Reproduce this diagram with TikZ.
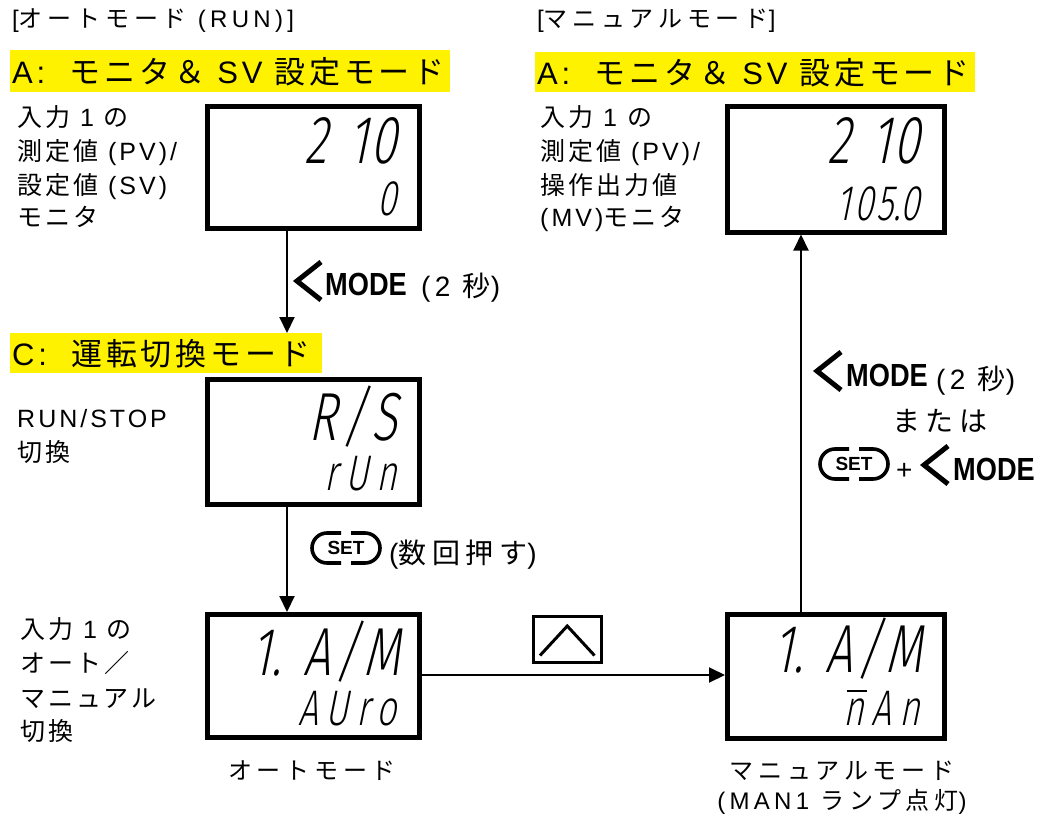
\documentclass[tikz,border=0pt]{standalone}
\usepackage{fontspec}
\usetikzlibrary{arrows.meta}
\setmainfont{Liberation Sans}
\newfontfamily\jp[LetterSpace=12]{Noto Sans CJK JP}
\newfontfamily\jpw[LetterSpace=20]{Noto Sans CJK JP}
\newfontfamily\jpk[LetterSpace=20]{Noto Sans CJK JP}
\newfontfamily\lat[LetterSpace=12]{Liberation Sans}
\newfontfamily\latw[LetterSpace=18]{Liberation Sans}
\newfontfamily\latk[LetterSpace=16]{Liberation Sans}
\newfontfamily\segf[FakeSlant=0.2,FakeStretch=0.7,UprightFont=* Light]{Fira Sans}
\newfontfamily\segs[FakeSlant=0.2,FakeStretch=0.7,LetterSpace=16,UprightFont=* Light]{Fira Sans}
\newfontfamily\keyf[FakeStretch=0.85]{Liberation Sans}
\begin{document}
\begin{tikzpicture}[x=1pt,y=-1pt,
  disp/.style={draw, line width=4.5pt, anchor=north west, inner sep=0},
  lab/.style={anchor=base west, inner sep=0, font=\lat\fontsize{25}{30}\selectfont},
  title/.style={anchor=base west, inner sep=0, font=\latw\fontsize{24}{26}\selectfont},
  head/.style={anchor=base west, inner sep=0, font=\lat\fontsize{31}{36}\selectfont},
  hlbox/.style={fill=yellow, draw=none, anchor=north west, inner sep=0},
  segbig/.style={anchor=base east, inner sep=0, font=\segf\fontsize{68}{68}\selectfont},
  segsmall/.style={anchor=base east, inner sep=0, font=\segs\fontsize{50}{50}\selectfont},
  segsmallc/.style={anchor=base east, inner sep=0, font=\segf\fontsize{50}{50}\selectfont},
  keytxt/.style={anchor=base west, inner sep=0, font=\keyf\bfseries\fontsize{32}{36}\selectfont},
  plain/.style={anchor=base west, inner sep=0, font=\latk\fontsize{28}{30}\selectfont},
  under/.style={anchor=base, inner sep=0, font=\latw\fontsize{24}{28}\selectfont},
  arr/.style={line width=2pt, -{Triangle[length=16pt,width=15pt]}},
  chev/.pic={\draw[line width=5pt, line cap=butt, line join=miter] (12,-19) -- (-12,0) -- (12,19);},
  setkey/.pic={
    \draw[line width=3.6pt] (-5,-15) -- (-19,-15) arc[start angle=-90,end angle=-270,radius=15] -- (-5,15);
    \draw[line width=3.6pt] (5,-15) -- (19,-15) arc[start angle=-90,end angle=90,radius=15] -- (5,15);
    \node[inner sep=0, font=\bfseries\fontsize{19}{19}\selectfont] at (0,0) {SET};}
]
\useasboundingbox (0,0) rectangle (1050,817);

% ---------- titles ----------
\node[title] (t1) at (12,27) {[{\jpw オートモード} (RUN)]};
\node[title] (t2) at (537,27) {[{\jpw マニュアルモード}]};

\node[hlbox, minimum width=440pt, minimum height=42pt] (hA1) at (10,50) {};
\node[head] (hA1t) at (12,83) {A:\ \ {\jp モニタ＆} SV {\jp 設定モード}};
\node[hlbox, minimum width=440pt, minimum height=40pt] (hA2) at (535,52) {};
\node[head] (hA2t) at (537,84) {A:\ \ {\jp モニタ＆} SV {\jp 設定モード}};
\node[hlbox, minimum width=312pt, minimum height=40pt] (hC) at (10,333) {};
\node[head] (hCt) at (12,365) {C:\ \ {\jp 運転切換モード}};

% ---------- display boxes ----------
\node[disp, minimum width=212pt, minimum height=122pt] (b1) at (205,104) {};
\node[disp, minimum width=212pt, minimum height=125pt] (b2) at (205,377) {};
\node[disp, minimum width=212pt, minimum height=123pt] (b3) at (205,612) {};
\node[disp, minimum width=217pt, minimum height=124pt] (b4) at (725,612) {};
\node[disp, minimum width=217pt, minimum height=126pt] (b5) at (725,104) {};

% display texts
\node[segbig] (d1a) at (397,163) {2\hspace{22pt}1\hspace{2pt}0};
\node[segsmall] (d1b) at (397,215) {0};
\node[segbig] (d2a) at (397,440) {R\hspace{5pt}/\hspace{5pt}S};
\node[segsmall] (d2b) at (397,490) {rUn};
\node[segbig] (d3a) at (400,675) {1.\hspace{22pt}A\hspace{4pt}/\hspace{4pt}M};
\node[segsmall] (d3b) at (397,725) {AUro};
\node[segbig] (d4a) at (922,672) {1.\hspace{22pt}A\hspace{4pt}/\hspace{4pt}M};
\node[segsmall] (d4b) at (920,725) {nAn};
\draw[line width=2.5pt] ([xshift=4pt,yshift=34pt]d4b.base west) -- ++(20,0);
\node[segbig] (d5a) at (920,163) {2\hspace{22pt}1\hspace{2pt}0};
\node[segsmallc] (d5b) at (920,220) {1\kern3pt0\kern3pt5.0};

% ---------- side labels ----------
\node[lab] (l1) at (17,126) {{\jp 入力} 1 {\jp の}};
\node[lab] (l2) at (17,160) {{\jp 測定値} (PV)/};
\node[lab] (l3) at (17,194) {{\jp 設定値} (SV)};
\node[lab] (l4) at (17,226) {{\jp モニタ}};

\node[lab] (r1) at (17,427) {RUN/STOP};
\node[lab] (r2) at (17,461) {{\jp 切換}};

\node[lab] (m1) at (20,638) {{\jp 入力} 1 {\jp の}};
\node[lab] (m2) at (20,672) {{\jp オート／}};
\node[lab] (m3) at (20,707) {{\jp マニュアル}};
\node[lab] (m4) at (20,740) {{\jp 切換}};

\node[lab] (n1) at (540,126) {{\jp 入力} 1 {\jp の}};
\node[lab] (n2) at (540,160) {{\jp 測定値} (PV)/};
\node[lab] (n3) at (540,194) {{\jp 操作出力値}};
\node[lab] (n4) at (540,226) {(MV){\jp モニタ}};

\node[under] (o1) at (312,779) {{\jpw オートモード}};
\node[under] (o2) at (842,779) {{\jpw マニュアルモード}};
\node[under] (o3) at (842,809) {(MAN1 {\jpw ランプ点灯})};

% ---------- connectors ----------
\coordinate (xl) at (287,0);
\coordinate (xr) at (801,0);
\coordinate (yh) at (0,675);
\draw[arr] (xl |- b1.south) -- (xl |- hC.north);
\draw[arr] (xl |- b2.south) -- (xl |- b3.north);
\draw[arr] (b3.east |- yh) -- (b4.west |- yh);
\draw[arr] (xr |- b4.north) -- (xr |- b5.south);

% ---------- key labels ----------
\pic at (309,281) {chev};
\node[keytxt] (k1) at (325,295) {MODE};
\node[plain] (k1b) at (421,296) {(2 {\jpk 秒})};

\pic at (346,548) {setkey};
\node[plain] (s1) at (389,563) {({\jpk 数回押す})};

\node[draw, line width=2.5pt, minimum width=68pt, minimum height=46pt, inner sep=0, anchor=north west] (up) at (532,615) {};
\draw[line width=3pt] ([xshift=8pt,yshift=8pt]up.south west) -- ([yshift=-11pt]up.north) -- ([xshift=-8pt,yshift=8pt]up.south east);

\pic at (829,371) {chev};
\node[keytxt] (k2) at (846,386) {MODE};
\node[plain] (k2b) at (936,389) {(2 {\jpk 秒})};
\node[anchor=base, inner sep=0, font=\jpk\fontsize{28}{30}\selectfont] (or) at (940,431) {または};
\pic at (854,464) {setkey};
\node[plain] (plus) at (896,479) {+};
\pic at (936,465) {chev};
\node[keytxt] (k3) at (953,480) {MODE};
\end{tikzpicture}
\end{document}
